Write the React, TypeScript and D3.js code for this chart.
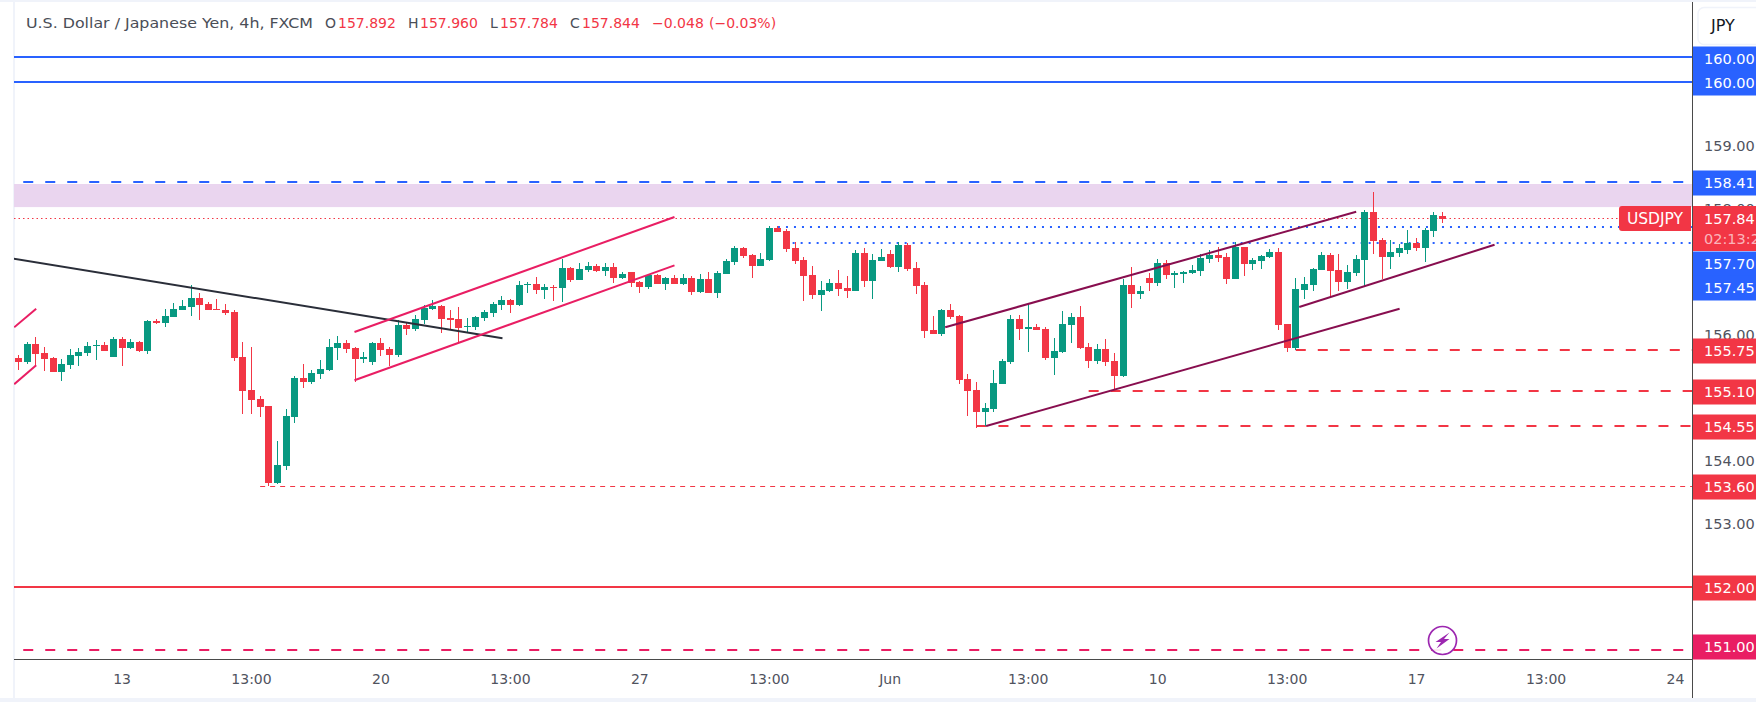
import * as d3 from "d3";

const W = 1756;
const H = 702;
const paneLeft = 14;
const paneRight = 1692;
const paneBottom = 659;

const green = "#089981";
const red = "#f23645";
const blue = "#2962ff";
const pink = "#e91e63";
const maroon = "#880e4f";
const FONT = "'DejaVu Sans', sans-serif";

// 4h bars, oldest first
const opens = [
  155.63,155.57,155.86,155.71,155.63,155.41,155.52,155.67,155.71,155.82,
  155.84,155.65,155.94,155.79,155.89,155.75,156.22,156.19,156.29,156.40,
  156.44,156.59,156.49,156.41,156.40,156.37,155.65,155.13,154.98,154.87,
  153.65,153.92,154.70,155.32,155.25,155.38,155.44,155.79,155.87,155.79,
  155.62,155.57,155.87,155.78,155.68,156.16,156.10,156.24,156.41,156.46,
  156.27,156.25,156.13,156.13,156.27,156.35,156.48,156.56,156.48,156.79,
  156.81,156.71,156.76,156.75,157.06,156.87,157.03,157.10,157.02,157.08,
  156.90,157.00,156.84,156.76,156.95,156.81,156.90,156.81,156.90,156.68,
  156.89,156.67,156.97,157.16,157.38,157.27,157.10,157.19,157.70,157.65,
  157.38,157.19,156.95,156.63,156.70,156.83,156.75,156.70,157.30,156.86,
  157.17,157.29,157.08,157.43,157.06,156.79,156.08,156.02,156.40,156.30,
  155.30,155.13,154.78,154.83,155.22,155.57,156.25,156.09,156.13,156.09,
  155.63,155.73,156.16,156.29,155.81,155.59,155.78,155.59,155.35,156.79,
  156.65,156.90,156.82,157.14,156.95,156.97,156.98,157.02,157.21,157.27,
  157.24,156.89,157.40,157.13,157.17,157.24,157.32,156.17,155.79,156.71,
  156.79,157.03,157.27,157.03,156.84,156.98,157.19,157.95,157.51,157.24,
  157.30,157.35,157.46,157.38,157.65,157.892,
];
const highs = [
  155.68,155.89,155.97,155.81,155.65,155.62,155.78,155.79,155.89,155.92,
  155.89,155.97,155.97,155.94,155.91,156.24,156.25,156.41,156.51,156.56,
  156.79,156.67,156.52,156.57,156.49,156.40,155.89,155.81,155.03,154.87,
  154.32,154.82,155.35,155.54,155.44,155.60,155.94,155.98,155.92,155.81,
  155.73,155.89,155.95,155.81,156.24,156.21,156.32,156.48,156.56,156.48,
  156.40,156.44,156.27,156.30,156.40,156.52,156.62,156.57,156.86,156.84,
  156.92,156.81,156.79,157.21,157.08,157.14,157.16,157.13,157.14,157.14,
  157.00,157.00,156.86,156.97,156.97,156.92,156.95,156.97,156.94,156.97,
  157.00,157.02,157.21,157.41,157.40,157.29,157.30,157.73,157.73,157.68,
  157.48,157.24,157.09,156.86,156.89,157.03,156.94,157.35,157.38,157.29,
  157.36,157.35,157.48,157.46,157.16,156.84,156.30,156.41,156.49,156.32,
  155.38,155.25,154.92,155.44,155.62,156.32,156.32,156.51,156.17,156.13,
  155.95,156.38,156.35,156.46,155.87,155.86,155.94,155.71,156.89,157.08,
  156.78,156.98,157.21,157.19,157.02,157.02,157.11,157.29,157.35,157.40,
  157.30,157.48,157.40,157.22,157.27,157.36,157.38,156.17,156.90,156.92,
  157.06,157.32,157.30,157.29,157.11,157.27,157.98,158.27,157.54,157.51,
  157.44,157.67,157.54,157.70,157.95,157.96,
];
const lows = [
  155.44,155.54,155.52,155.43,155.41,155.27,155.46,155.51,155.67,155.60,
  155.75,155.65,155.51,155.78,155.73,155.70,156.17,156.13,156.29,156.40,
  156.30,156.24,156.40,156.40,156.32,155.59,154.75,154.75,154.70,153.60,
  153.64,153.86,154.60,155.16,155.22,155.30,155.43,155.60,155.71,155.25,
  155.56,155.52,155.67,155.51,155.65,156.00,156.06,156.17,156.40,156.03,
  156.08,155.87,156.05,156.08,156.22,156.29,156.40,156.35,156.46,156.67,
  156.65,156.57,156.54,156.52,156.84,156.87,157.00,157.00,156.94,156.83,
  156.89,156.76,156.67,156.73,156.81,156.71,156.81,156.79,156.64,156.67,
  156.67,156.59,156.97,157.11,157.22,156.90,157.10,157.17,157.63,157.32,
  157.13,156.54,156.57,156.38,156.68,156.62,156.59,156.70,156.76,156.57,
  157.17,157.06,157.00,157.02,156.65,155.95,156.02,155.98,156.25,155.22,
  154.71,154.52,154.55,154.78,155.22,155.54,155.92,155.73,156.08,155.60,
  155.36,155.71,155.87,155.78,155.47,155.54,155.51,155.13,155.33,156.43,
  156.57,156.70,156.78,156.89,156.75,156.82,156.97,156.94,157.14,157.16,
  156.81,156.89,156.94,157.03,157.05,157.22,156.08,155.73,155.76,156.57,
  156.70,157.03,156.60,156.70,156.73,156.94,156.78,157.29,156.89,157.05,
  157.24,157.29,157.33,157.16,157.55,157.784,
];
const closes = [
  155.57,155.86,155.70,155.62,155.41,155.54,155.68,155.73,155.82,155.84,
  155.75,155.94,155.79,155.89,155.75,156.22,156.19,156.30,156.41,156.46,
  156.59,156.48,156.40,156.40,156.35,155.63,155.11,154.97,154.86,153.65,
  153.94,154.71,155.32,155.25,155.40,155.46,155.81,155.87,155.78,155.62,
  155.65,155.87,155.76,155.68,156.16,156.10,156.25,156.43,156.46,156.25,
  156.24,156.11,156.14,156.29,156.37,156.49,156.56,156.48,156.79,156.81,
  156.71,156.76,156.75,157.06,156.87,157.05,157.10,157.02,157.08,156.90,
  156.97,156.83,156.76,156.95,156.81,156.90,156.81,156.90,156.68,156.89,
  156.67,156.98,157.18,157.38,157.25,157.10,157.21,157.70,157.63,157.36,
  157.17,156.94,156.63,156.71,156.83,156.73,156.70,157.30,156.86,157.19,
  157.24,157.08,157.43,157.05,156.78,156.06,156.02,156.40,156.29,155.29,
  155.11,154.78,154.84,155.24,155.59,156.25,156.09,156.13,156.08,155.63,
  155.75,156.17,156.29,155.79,155.59,155.78,155.57,155.35,156.79,156.65,
  156.70,156.83,157.14,156.95,156.98,157.00,157.03,157.22,157.27,157.22,
  156.89,157.40,157.13,157.19,157.25,157.32,156.16,155.79,156.73,156.81,
  157.05,157.27,157.02,156.84,157.00,157.21,157.95,157.49,157.24,157.32,
  157.38,157.46,157.38,157.67,157.90,157.844,
];

const priceTicks = [159, 158, 157, 156, 155, 154, 153];
const timeTicks: [number, string][] = [
  [12, "13"], [27, "13:00"], [42, "20"], [57, "13:00"], [72, "27"], [87, "13:00"],
  [101, "Jun"], [117, "13:00"], [132, "10"], [147, "13:00"], [162, "17"], [177, "13:00"], [192, "24"],
];

// bar index / price end points of the drawn trend lines
const blackLines = [[-0.6, 157.211, 56.08, 155.948]];
const pinkLines = [
  [38.93, 156.048, 76.01, 157.873],
  [38.93, 155.281, 76.01, 157.106],
  [-0.5, 156.122, 2.05, 156.417],
  [-0.5, 155.218, 2.05, 155.519],
];
const maroonLines = [
  [107.38, 156.122, 155.0, 157.957],
  [112.13, 154.556, 160.03, 156.417],
  [148.4, 156.444, 171.03, 157.433],
];

// price, first bar, colour, width, dash
const levels: [number, number, string, number, string][] = [
  [160.41, -2, blue, 2, ""],
  [160.02, -2, blue, 2, ""],
  [158.43, -2, blue, 2, "10 12"],
  [157.72, 88, blue, 2, "2 6"],
  [157.46, 89.7, blue, 2, "2 6"],
  [155.76, 148, red, 2, "10 12"],
  [155.11, 124, red, 2, "10 12"],
  [154.55, 111, red, 2, "10 12"],
  [153.6, 28, red, 1, "5 5"],
  [152, -2, red, 2, ""],
  [151, -2, pink, 2, "10 12"],
];
const lastPrice = 157.844;
const zone = [158.397, 158.03];

// axis price tags: text, centre of the box on the scale, colour
const priceTags: [string, number, string][] = [
  ["160.00", 59, blue],
  ["160.00", 83, blue],
  ["158.41", 183, blue],
  ["157.70", 264, blue],
  ["157.45", 288, blue],
  ["155.75", 351, red],
  ["155.10", 392, red],
  ["154.55", 427, red],
  ["153.60", 487, red],
  ["152.00", 588, red],
  ["151.00", 647, pink],
];

const titleText = "U.S. Dollar / Japanese Yen, 4h, FXCM";
const header: [string, number, string][] = [
  ["O", 325, "#4a4e57"],
  ["157.892", 338, red],
  ["H", 408, "#4a4e57"],
  ["157.960", 420, red],
  ["L", 490, "#4a4e57"],
  ["157.784", 500, red],
  ["C", 570, "#4a4e57"],
  ["157.844", 582, red],
  ["\u22120.048", 652, red],
  ["(\u22120.03%)", 709, red],
];

const x = d3.scaleLinear().domain([0, 165]).range([18.5, 1442.5]);
const y = d3.scaleLinear().domain([158, 157]).range([209, 272]);

const lineGen = d3.line<[number, number]>().x((d) => x(d[0])).y((d) => y(d[1]));

function Trend({ rows, color }: { rows: number[][]; color: string }) {
  return (
    <g fill="none" stroke={color} strokeWidth={2}>
      {rows.map((r, i) => (
        <path key={i} d={lineGen([[r[0], r[1]], [r[2], r[3]]])!} />
      ))}
    </g>
  );
}

export default function App() {
  return (
    <svg width={W} height={H} style={{ position: "absolute", left: 0, top: 0, background: "#fff" }} fontFamily={FONT}>
      <defs>
        <clipPath id="pane">
          <rect x={paneLeft} y={0} width={paneRight - paneLeft} height={paneBottom} />
        </clipPath>
        <clipPath id="scale">
          <rect x={paneRight + 1} y={0} width={W - paneRight} height={H} />
        </clipPath>
      </defs>

      <rect x={0} y={0} width={W} height={2} fill="#f0f3fa" />
      <rect x={0} y={698} width={W} height={4} fill="#f0f3fa" />
      <rect x={13} y={0} width={2} height={H} fill="#f0f3fa" />

      <g clipPath="url(#pane)">
        <rect x={paneLeft} y={y(zone[0])} width={paneRight - paneLeft} height={y(zone[1]) - y(zone[0])} fill="#ead5ef" />
        <line x1={paneLeft} x2={1618} y1={Math.floor(y(lastPrice)) + 0.5} y2={Math.floor(y(lastPrice)) + 0.5} stroke={red} strokeDasharray="1.5 3" />
        {levels.map(([p, start, color, sw, dash], i) => {
          const ly = sw === 1 ? Math.floor(y(p)) + 0.5 : Math.round(y(p));
          return <line key={i} x1={x(start)} x2={paneRight} y1={ly} y2={ly} stroke={color} strokeWidth={sw} strokeDasharray={dash} />;
        })}
        <g shapeRendering="crispEdges">
          {opens.map((o, i) => {
            const c = closes[i];
            const left = Math.round(x(i) - 3.5);
            const top = Math.round(y(Math.max(o, c)));
            const bottom = Math.round(y(Math.min(o, c)));
            const fill = c >= o ? green : red;
            return (
              <g key={i} fill={fill}>
                <rect x={left + 3} width={1} y={y(highs[i])} height={y(lows[i]) - y(highs[i])} />
                <rect x={left} width={7} y={top} height={Math.max(1, bottom - top)} />
              </g>
            );
          })}
        </g>
        <Trend rows={blackLines} color="#2a2e39" />
        <Trend rows={pinkLines} color={pink} />
        <Trend rows={maroonLines} color={maroon} />
      </g>

      {/* price scale */}
      <g clipPath="url(#scale)" fontSize={14.5} fill="#50535e">
        <rect x={1698} y={7.5} width={80} height={37} rx={6} fill="#fff" stroke="#f0f3fa" strokeWidth={1.5} />
        <text x={1711} y={31} fill="#131722" fontSize={16}>JPY</text>
        {priceTicks.map((p) => (
          <text key={p} x={1704} y={y(p)} dy="0.36em">{p.toFixed(2)}</text>
        ))}
        {priceTags.map(([, cy, color], i) => (
          <rect key={i} x={paneRight + 1} y={cy - 12.5} width={W - paneRight} height={25} fill={color} />
        ))}
        <rect x={paneRight + 1} y={206} width={W - paneRight} height={45} fill={red} />
        {priceTags.map(([label, cy], i) => (
          <text key={i} x={1704} y={cy} dy="0.36em" fill="#fff">{label}</text>
        ))}
        <text x={1704} y={218.5} dy="0.36em" fill="#fff">157.84</text>
        <text x={1704} y={238.5} dy="0.36em" fill="#fff" fillOpacity={0.65}>02:13:2</text>
      </g>

      <path d="M1634 206H1691V231H1634" fill={red} />
      <rect x={1619} y={206} width={40} height={25} rx={3} fill={red} />
      <text x={1655} y={218.5} dy="0.36em" textAnchor="middle" fill="#fff" fontSize={15.5}>USDJPY</text>

      <line x1={paneRight + 0.5} x2={paneRight + 0.5} y1={2} y2={698} stroke="#4a4a4a" strokeWidth={1} />
      <line x1={paneLeft} x2={paneRight} y1={659.5} y2={659.5} stroke="#4a4a4a" strokeWidth={1} />

      {/* time scale */}
      <g fontSize={14} fill="#50535e" textAnchor="middle">
        {timeTicks.map(([bar, label]) => (
          <text key={bar} x={x(bar)} y={679} dy="0.36em">{label}</text>
        ))}
      </g>

      {/* alert icon on the last bar */}
      <g transform={`translate(${x(165)},640.5)`}>
        <circle r={14} fill="#fff" fillOpacity={0.9} stroke="#9c27b0" strokeWidth={1.7} />
        <path d="M7 -8 L-7 1.5 L-1.5 1.5 L-6 8 L7 -1.5 L1.5 -1.5 Z" fill="#9c27b0" />
      </g>

      <g fontSize={14}>
        <text x={26} y={23} dy="0.36em" fill="#4a4e57" textLength={287} lengthAdjust="spacingAndGlyphs">{titleText}</text>
        {header.map(([t, px, color], i) => (
          <text key={i} x={px} y={23} dy="0.36em" fill={color}>{t}</text>
        ))}
      </g>
    </svg>
  );
}
